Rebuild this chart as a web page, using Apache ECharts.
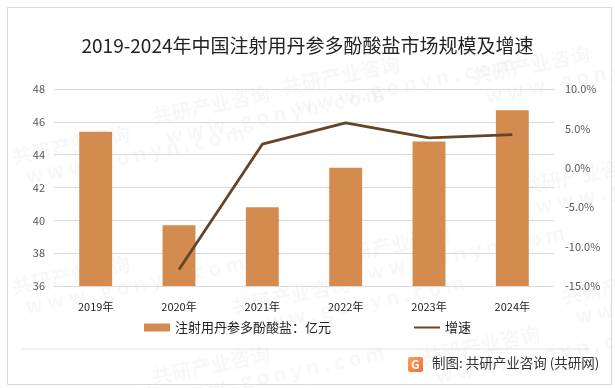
<!DOCTYPE html>
<html><head><meta charset="utf-8">
<script src="https://cdn.jsdelivr.net/npm/echarts@6/dist/echarts.min.js"></script>
<style>html,body{margin:0;padding:0;background:#fff}#c{width:615px;height:388px}</style>
</head><body><div id="c"></div>
<script>
const categories = ['2019年','2020年','2021年','2022年','2023年','2024年'];
const marketSize = [45.4, 39.7, 40.8, 43.2, 44.8, 46.7];
const growthRate = [null, -12.9, 3.0, 5.7, 3.8, 4.2];
const leftTicks = {min:36, max:48, interval:2};
const rightTicks = {min:-15, max:10, interval:5};

const chart = echarts.init(document.getElementById('c'));
const F = '"Noto Sans CJK SC", "Noto Sans", sans-serif';
const wm = [];
const wmPos = [[10,100],[10,230],[150,60],[150,320],[280,30],[330,200],[420,300],[470,20],[520,130],[560,240],[40,360],[230,250]];
wmPos.forEach(p=>{
  wm.push({type:'text',left:p[0],top:p[1],rotation:0.2,silent:true,z:-1,
    style:{text:'共研产业咨询\n  w w w . g o n y n . c o m',font:'bold 20px '+F,fill:'rgba(0,0,0,0.03)',lineHeight:22}});
});
chart.setOption({
  animation:false,
  backgroundColor:'#fff',
  title:{text:'2019-2024年中国注射用丹参多酚酸盐市场规模及增速',left:'center',top:31,
    textStyle:{fontFamily:F,fontSize:19,fontWeight:'normal',color:'#222'}},
  grid:{left:54,right:61,top:89,bottom:102,containLabel:false},
  legend:{bottom:49,left:'center',itemGap:82,itemWidth:26,itemHeight:8,
    textStyle:{fontFamily:F,fontSize:13,color:'#222'},
    data:[{name:'注射用丹参多酚酸盐：亿元',icon:'rect'},{name:'增速',itemStyle:{opacity:0}}]},
  xAxis:{type:'category',data:categories,
    axisLine:{show:false},axisTick:{show:false},
    axisLabel:{fontFamily:F,fontSize:11,color:'#222',margin:15}},
  yAxis:[
    {type:'value',min:leftTicks.min,max:leftTicks.max,interval:leftTicks.interval,
      axisLabel:{fontFamily:F,fontSize:11,color:'#595959',margin:9},
      splitLine:{lineStyle:{color:'#d9d9d9'}},axisLine:{show:false},axisTick:{show:false}},
    {type:'value',min:rightTicks.min,max:rightTicks.max,interval:rightTicks.interval,
      axisLabel:{fontFamily:F,fontSize:11,color:'#595959',margin:11,formatter:v=>v.toFixed(1)+'%'},
      splitLine:{show:false},axisLine:{show:false},axisTick:{show:false}}
  ],
  series:[
    {name:'注射用丹参多酚酸盐：亿元',type:'bar',data:marketSize,barWidth:'39.5%',
      itemStyle:{color:'#D38B4F'}},
    {name:'增速',type:'line',yAxisIndex:1,data:growthRate,symbol:'none',
      lineStyle:{color:'#654428',width:2.8},itemStyle:{color:'#654428'}}
  ],
  graphic:[
    ...wm,
    {type:'rect',left:5,top:5,shape:{width:604,height:377},silent:true,
      style:{fill:'none',stroke:'#d9d9d9',lineWidth:1}},
    {type:'line',shape:{x1:22,y1:349,x2:590,y2:349},silent:true,style:{stroke:'#e0e0e0',lineWidth:1}},
    {type:'rect',left:408,top:357,shape:{width:15,height:15,r:2},silent:true,
      style:{fill:new echarts.graphic.LinearGradient(0,0,1,1,[{offset:0,color:'#f7a35c'},{offset:1,color:'#f26b3a'}])}},
    {type:'text',left:411,top:358,silent:true,style:{text:'G',font:'bold 12px '+F,fill:'#fff'}},
    {type:'text',left:432,top:356,silent:true,style:{text:'制图: 共研产业咨询 (共研网)',font:'13.5px '+F,fill:'#333'}}
  ]
});
</script></body></html>
